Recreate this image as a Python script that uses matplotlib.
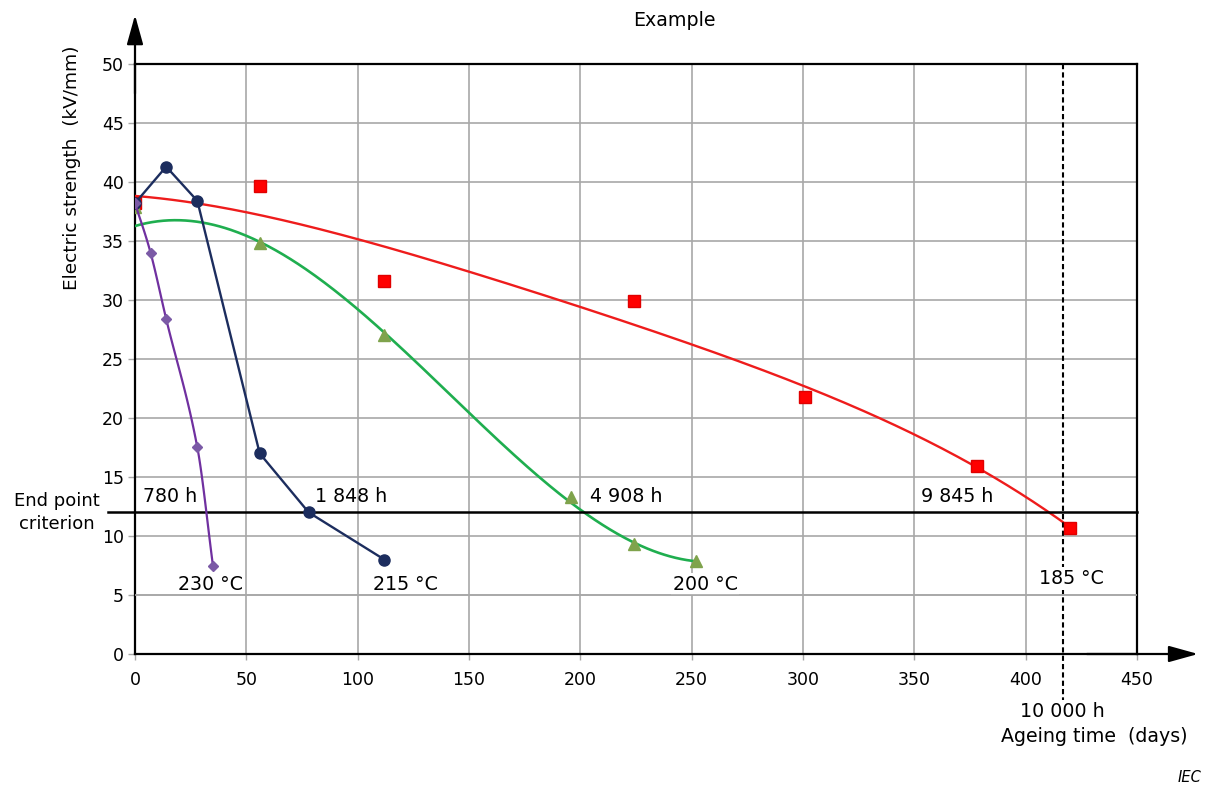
import numpy as np
import matplotlib
matplotlib.use('Agg')
import matplotlib.pyplot as plt

plt.rcParams['font.family'] = ['DejaVu Sans']

# ---------------- data ----------------
days_230 = [0, 7, 14, 28, 35]
es_230 = [38.2, 34.0, 28.4, 17.5, 7.5]

days_215 = [0, 14, 28, 56, 78, 112]
es_215 = [38.2, 41.3, 38.4, 17.0, 12.0, 8.0]

days_200 = [0, 56, 112, 196, 224, 252]
es_200 = [37.9, 34.8, 27.0, 13.3, 9.3, 7.9]

days_185 = [0, 56, 112, 224, 301, 378, 420]
es_185 = [38.2, 39.7, 31.6, 29.9, 21.8, 15.9, 10.7]

# trend curves
trend_200_x = [0, 20, 50, 100, 150, 175, 200, 225, 252]
trend_200_y = [36.35, 36.6, 35.5, 29.3, 20.4, 16.0, 12.2, 9.5, 7.8]
trend_185_x = [0, 50, 100, 150, 200, 250, 300, 350, 400, 420]
trend_185_y = [38.8, 37.5, 35.1, 32.4, 29.4, 26.3, 22.65, 18.7, 13.2, 10.8]

end_point = 12
end_time_days = 10000 / 24

time_labels = ["780 h", "1 848 h", "4 908 h", "9 845 h"]
time_label_x = [3.6, 80.8, 204.3, 353.0]
temp_labels = ["230 °C", "215 °C", "200 °C", "185 °C"]
temp_label_x = [33.7, 121.6, 256, 420.7]
temp_label_y = [5.85, 5.85, 5.93, 6.4]
temp_label_boxed = [False, False, True, True]

xticks = list(range(0, 451, 50))
yticks = list(range(0, 51, 5))

FS = 13.7
TFS = 12.5
GRID = '#a8a8a8'


def smooth(xs, ys, n=30):
    """Cubic Hermite curve through given points (Catmull-Rom tangents)."""
    xs = np.asarray(xs, float)
    ys = np.asarray(ys, float)
    m = np.zeros_like(ys)
    m[1:-1] = (ys[2:] - ys[:-2]) / (xs[2:] - xs[:-2])
    m[0] = (ys[1] - ys[0]) / (xs[1] - xs[0])
    m[-1] = (ys[-1] - ys[-2]) / (xs[-1] - xs[-2])
    ox, oy = [], []
    for i in range(len(xs) - 1):
        h = xs[i + 1] - xs[i]
        t = np.linspace(0, 1, n, endpoint=(i == len(xs) - 2))
        h00 = 2 * t**3 - 3 * t**2 + 1
        h10 = t**3 - 2 * t**2 + t
        h01 = -2 * t**3 + 3 * t**2
        h11 = t**3 - t**2
        ox.extend(xs[i] + t * h)
        oy.extend(h00 * ys[i] + h10 * h * m[i] + h01 * ys[i + 1] + h11 * h * m[i + 1])
    return np.array(ox), np.array(oy)


def trend(xs, ys, deg):
    c = np.polyfit(xs, ys, deg)
    x = np.linspace(min(xs), max(xs), 300)
    return x, np.polyval(c, x)


fig = plt.figure(figsize=(12.11, 7.87), dpi=100)
ax = fig.add_axes([135 / 1211, 133 / 787, 1002 / 1211, 590 / 787])
ax.set_xlim(0, 450)
ax.set_ylim(0, 50)
ax.set_xticks(xticks)
ax.set_yticks(yticks)
ax.grid(True, color=GRID, lw=1.2)
ax.set_axisbelow(True)
for s in ax.spines.values():
    s.set_color('black')
    s.set_linewidth(1.6)
ax.tick_params(axis='both', labelsize=TFS, colors='black')
ax.tick_params(axis='y', length=5, width=1.0, color=GRID, pad=3)
ax.tick_params(axis='x', length=4, width=1.0, color=GRID, pad=8)

# curves
purple_line, purple_mark = '#7030a0', '#7b5aa6'
navy = '#1c2d5e'
green_line, green_mark = '#1fae4f', '#7fa34c'
red = '#ff0000'

tx, ty = trend(trend_185_x, trend_185_y, 4)
ax.plot(tx, ty, color='#ee1c1c', lw=1.7, zorder=3)
gx, gy = trend(trend_200_x, trend_200_y, 4)
ax.plot(gx, gy, color=green_line, lw=1.9, zorder=3)

ax.plot(days_185, es_185, 's', color=red, ms=8, mec='#e00000', zorder=5)
ax.plot(days_200, es_200, '^', color=green_mark, ms=8.5, mec=green_mark, zorder=5)
ax.plot(days_215, es_215, '-o', color=navy, lw=1.7, ms=8, zorder=6)
px, py = smooth(days_230, es_230)
ax.plot(px, py, color=purple_line, lw=1.6, zorder=6)
ax.plot(days_230, es_230, 'D', color=purple_mark, ms=5.5, zorder=7)

# end point criterion line
ax.plot([-12.1, 450], [end_point, end_point], color='black', lw=1.8,
        clip_on=False, zorder=4)
ax.text(-35, end_point, "End point\ncriterion", ha='center', va='center',
        fontsize=13, linespacing=1.35)

# 10 000 h dashed line
ax.plot([end_time_days, end_time_days], [50, -3.9], color='black', lw=1.5,
        ls=(0, (2.5, 1.5)), clip_on=False, zorder=4)

for lab, x in zip(time_labels, time_label_x):
    ax.text(x, 13.33, lab, ha='left', va='center', fontsize=FS, zorder=8)
for lab, x, y, boxed in zip(temp_labels, temp_label_x, temp_label_y, temp_label_boxed):
    kw = {}
    if boxed:
        kw['bbox'] = dict(boxstyle='square,pad=0.1', fc='white', ec='none')
    ax.text(x, y, lab, ha='center', va='center', fontsize=FS, zorder=8, **kw)
# keep the 5 kV/mm grid line visible below the boxed labels
ax.axhline(5, color=GRID, lw=1.2, zorder=8.5)

ax.text(end_time_days, -4.9, "10 000 h", ha='center', va='center', fontsize=FS)
ax.text(431, -7.03, "Ageing time  (days)", ha='center', va='center', fontsize=FS)

# axis arrows
ax.annotate('', xy=(0, 1.083), xytext=(0, 0.95), xycoords='axes fraction',
            arrowprops=dict(arrowstyle='-|>,head_length=1.8,head_width=0.5',
                            color='black', lw=1.6, shrinkA=0, shrinkB=0),
            annotation_clip=False)
ax.annotate('', xy=(1.061, 0), xytext=(0.95, 0), xycoords='axes fraction',
            arrowprops=dict(arrowstyle='-|>,head_length=1.8,head_width=0.5',
                            color='black', lw=1.6, shrinkA=0, shrinkB=0),
            annotation_clip=False)

ax.text(-0.0629, 0.824, "Electric strength  (kV/mm)", rotation=90,
        transform=ax.transAxes, ha='center', va='center', fontsize=13.3)

fig.text(674 / 1211, 1 - 20 / 787, "Example", ha='center', va='center', fontsize=FS)
fig.text(1190 / 1211, 1 - 778 / 787, "IEC", ha='center', va='center',
         fontsize=10.5, style='italic')

fig.savefig('out.png', dpi=100)
